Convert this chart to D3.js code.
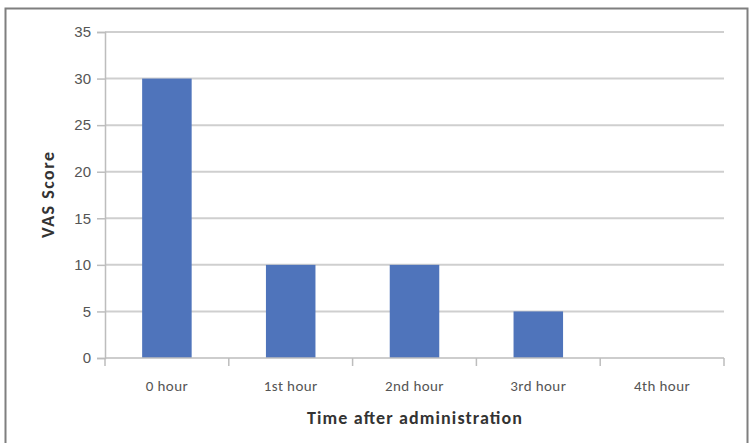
<!DOCTYPE html>
<html>
<head>
<meta charset="utf-8">
<script src="https://cdn.jsdelivr.net/npm/d3@7"></script>
<style>
  body { margin: 0; background: #fff; }
  svg { font-family: Calibri, "Liberation Sans", Arial, sans-serif; }
</style>
</head>
<body>
<svg id="chart" width="754" height="443"></svg>
<script>
// chart values
const categories = ["0 hour", "1st hour", "2nd hour", "3rd hour", "4th hour"];
const vasScores = [30, 10, 10, 5, 0];
const yTicks = [0, 5, 10, 15, 20, 25, 30, 35];

const width = 754;
const height = 443;
const margin = { top: 32, right: 30, bottom: 85, left: 105 };

const svg = d3.select("#chart");

// outer chart frame (bottom runs off the picture)
svg.append("rect")
  .attr("x", 5.5).attr("y", 8.5)
  .attr("width", 742).attr("height", 450)
  .attr("fill", "#fff")
  .attr("stroke", "#7f7f7f")
  .attr("stroke-width", 2);

const x = d3.scaleBand()
  .domain(categories)
  .range([margin.left, width - margin.right])
  .paddingInner(0.6)
  .paddingOuter(0.3);

const y = d3.scaleLinear()
  .domain([0, 35])
  .range([height - margin.bottom, margin.top]);

// gridlines
svg.append("g")
  .selectAll("line")
  .data(yTicks.filter(d => d > 0))
  .enter()
  .append("line")
  .attr("x1", margin.left)
  .attr("x2", width - margin.right)
  .attr("y1", d => y(d))
  .attr("y2", d => y(d))
  .attr("stroke", "#cfcfcf")
  .attr("stroke-width", 2);

// bars
svg.append("g")
  .selectAll("rect")
  .data(categories)
  .enter()
  .append("rect")
  .attr("x", d => x(d))
  .attr("y", (d, i) => y(vasScores[i]))
  .attr("width", x.bandwidth())
  .attr("height", (d, i) => y(0) - y(vasScores[i]))
  .attr("fill", "#4f74bb");

// y axis
const yAxis = d3.axisLeft(y).tickValues(yTicks).tickSize(8).tickPadding(6);
const gy = svg.append("g")
  .attr("transform", `translate(${margin.left},0)`)
  .call(yAxis);
gy.select(".domain").attr("stroke", "#bdbdbd").attr("stroke-width", 1.5);
gy.selectAll(".tick line").attr("stroke", "#bdbdbd").attr("stroke-width", 1.5);
gy.selectAll(".tick text")
  .attr("fill", "#555")
  .style("font-size", "15px");

// x axis baseline and category boundary ticks
const step = x.step();
const xEdges = d3.range(categories.length + 1).map(i => margin.left + i * step);
const gx = svg.append("g");
gx.append("line")
  .attr("x1", margin.left).attr("x2", width - margin.right)
  .attr("y1", y(0)).attr("y2", y(0))
  .attr("stroke", "#bdbdbd").attr("stroke-width", 1.5);
gx.selectAll(".xt")
  .data(xEdges)
  .enter()
  .append("line")
  .attr("class", "xt")
  .attr("x1", d => d).attr("x2", d => d)
  .attr("y1", y(0)).attr("y2", y(0) + 8)
  .attr("stroke", "#bdbdbd").attr("stroke-width", 1.5);
gx.selectAll("text")
  .data(categories)
  .enter()
  .append("text")
  .attr("x", d => x(d) + x.bandwidth() / 2)
  .attr("y", y(0) + 33)
  .attr("text-anchor", "middle")
  .attr("fill", "#555")
  .style("font-size", "15px")
  .style("letter-spacing", "0.4px")
  .text(d => d);

// axis titles
svg.append("text")
  .attr("x", 307)
  .attr("y", 424)
  .attr("textLength", 215)
  .attr("lengthAdjust", "spacing")
  .attr("fill", "#333")
  .style("font-size", "18px")
  .style("font-weight", "bold")
  .text("Time after administration");

svg.append("text")
  .attr("transform", "translate(54, 238) rotate(-90)")
  .attr("textLength", 86)
  .attr("lengthAdjust", "spacing")
  .attr("fill", "#333")
  .style("font-size", "18px")
  .style("font-weight", "bold")
  .text("VAS Score");
</script>
</body>
</html>
